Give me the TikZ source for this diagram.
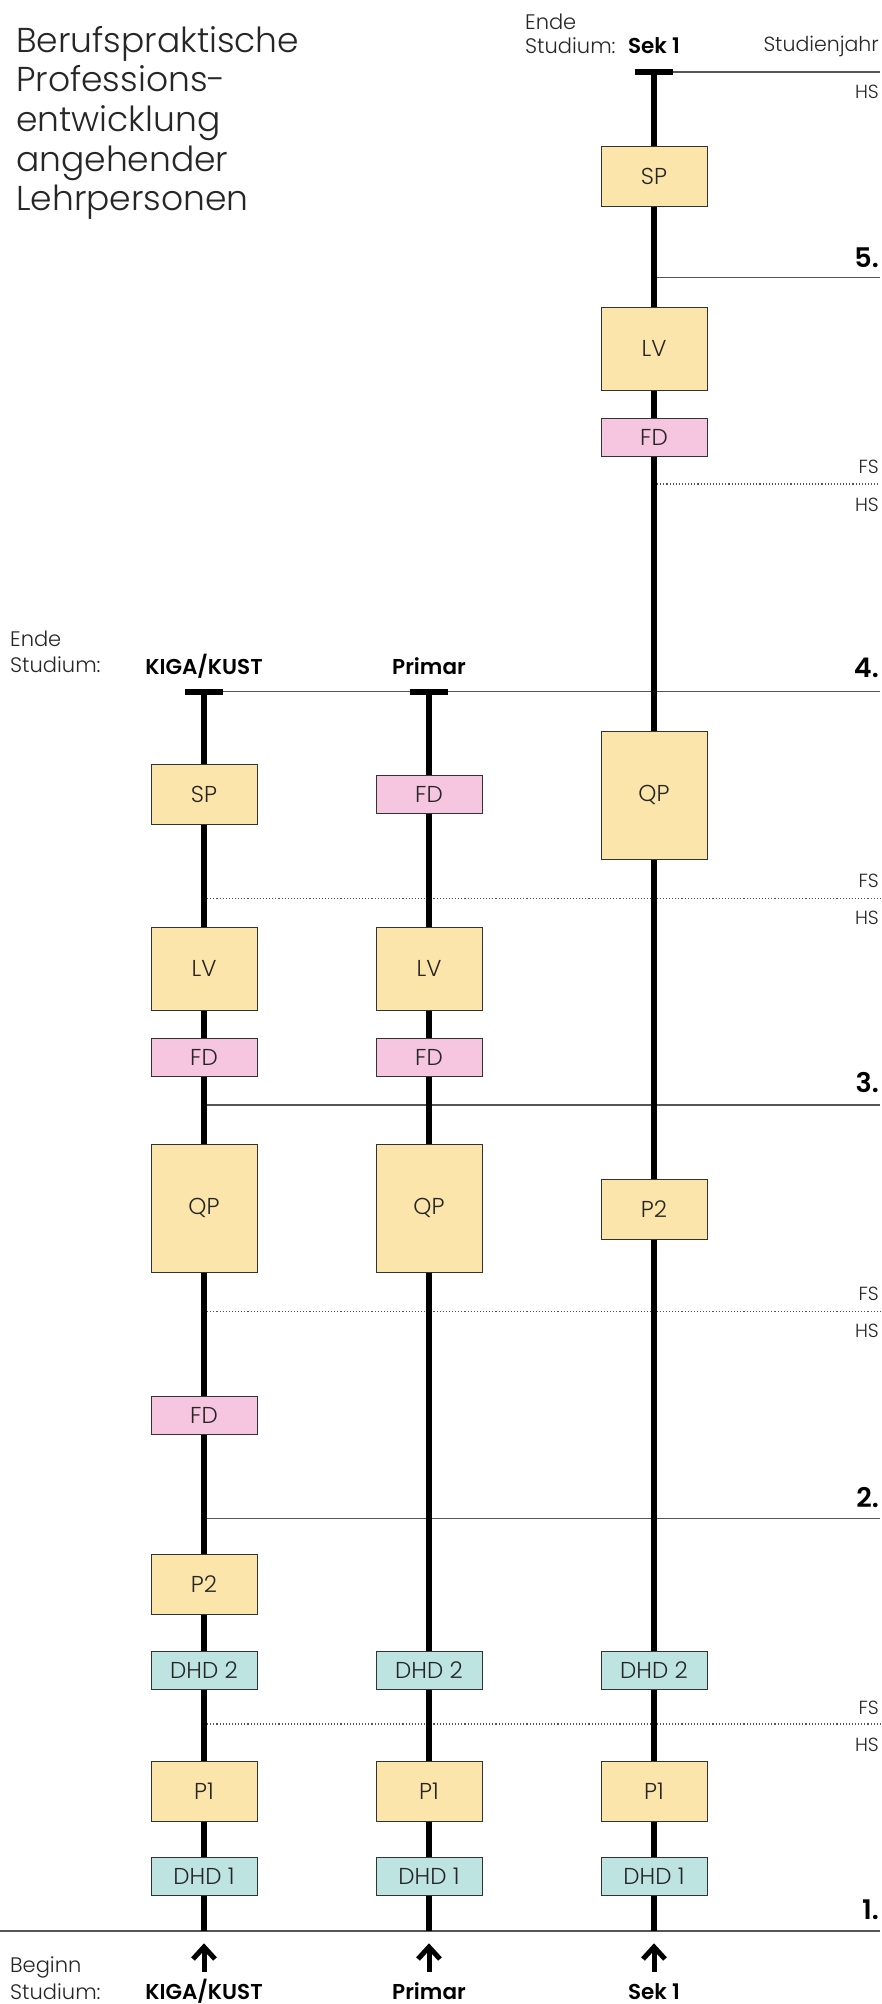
\documentclass[tikz,border=0pt]{standalone}
\usepackage{fontspec}
\setmainfont{Poppins}[UprightFont=* Light, BoldFont=* SemiBold]
\usetikzlibrary{arrows.meta}
\definecolor{yel}{HTML}{FCE5AA}
\definecolor{pnk}{HTML}{F6C5DF}
\definecolor{tea}{HTML}{BDE4E1}
\definecolor{rule}{HTML}{555555}
\tikzset{
  boxbase/.style={draw=black!80, line width=0.9pt, minimum width=106pt, inner sep=0pt,
    font=\fontsize{23}{26}\selectfont, text=black!85},
  ybox/.style={boxbase, fill=yel},
  pbox/.style={boxbase, fill=pnk},
  tbox/.style={boxbase, fill=tea},
  hsmall/.style={minimum height=38pt},
  hmid/.style={minimum height=60pt},
  hlv/.style={minimum height=83pt},
  hqp/.style={minimum height=128pt},
  colline/.style={line width=6pt, black},
  tbar/.style={line width=6pt, black},
  yearline/.style={line width=1.2pt, rule},
  semline/.style={line width=1.1pt, rule, dotted},
  rlabel/.style={anchor=east, inner sep=0pt, font=\fontsize{19}{22}\selectfont, text=black!85},
  yearlabel/.style={anchor=east, inner sep=0pt, font=\fontsize{27}{30}\selectfont\bfseries},
  smalltext/.style={inner sep=0pt, font=\fontsize{21}{25}\selectfont, text=black!85},
  boldtext/.style={inner sep=0pt, font=\fontsize{21.5}{25}\selectfont\bfseries},
  uparrow/.style={line width=5pt, black},
}
\begin{document}
\begin{tikzpicture}[x=1pt,y=-1pt]
\useasboundingbox (0,0) rectangle (882,2004);
\fill[white] (0,0) rectangle (882,2004);

% title
\node[anchor=north west, inner sep=0pt, align=left, font=\fontsize{34.5}{39.6}\selectfont, text=black!85] (title) at (16,26)
 {Berufspraktische\\Professions-\\entwicklung\\angehender\\Lehrpersonen};

% coordinates
\def\xK{204}\def\xP{429}\def\xS{654}
\coordinate (Stop) at (\xS,72);
\coordinate (Ktop) at (\xK,691.5);
\coordinate (Ptop) at (\xP,691.5);
\coordinate (Sbot) at (\xS,1931);
\coordinate (Kbot) at (\xK,1931);
\coordinate (Pbot) at (\xP,1931);
\coordinate (R) at (880,0);

% year / semester lines
\draw[yearline] (Stop) -- (Stop -| R);
\draw[yearline] (\xS,277.5) -- (880,277.5);
\draw[semline] (\xS,484) -- (880,484);
\draw[yearline] (Ktop) -- (Ktop -| R);
\draw[semline] (\xK,898.5) -- (880,898.5);
\draw[yearline] (\xK,1105) -- (880,1105);
\draw[semline] (\xK,1311.5) -- (880,1311.5);
\draw[yearline] (\xK,1518.5) -- (880,1518.5);
\draw[semline] (\xK,1724) -- (880,1724);
\draw[yearline] (0,1931) -- (880,1931);

% columns
\draw[colline] (Stop) -- (Sbot);
\draw[colline] (Ktop) -- (Kbot);
\draw[colline] (Ptop) -- (Pbot);
\draw[tbar] ([xshift=-19pt]Stop) -- ([xshift=19pt]Stop);
\draw[tbar] ([xshift=-19pt]Ktop) -- ([xshift=19pt]Ktop);
\draw[tbar] ([xshift=-19pt]Ptop) -- ([xshift=19pt]Ptop);

% Sek 1 boxes
\node[ybox,hmid]   (s-sp)   at (\xS,176.5) {SP};
\node[ybox,hlv]    (s-lv)   at (\xS,348.5) {LV};
\node[pbox,hsmall] (s-fd)   at (\xS,437) {FD};
\node[ybox,hqp]    (s-qp)   at (\xS,795) {QP};
\node[ybox,hmid]   (s-p2)   at (\xS,1209) {P2};
\node[tbox,hsmall] (s-dhd2) at (\xS,1670.5) {DHD 2};
\node[ybox,hmid]   (s-p1)   at (\xS,1791.5) {P1};
\node[tbox,hsmall] (s-dhd1) at (\xS,1876.5) {DHD 1};

% KIGA boxes
\node[ybox,hmid]   (k-sp)   at (\xK,794) {SP};
\node[ybox,hlv]    (k-lv)   at (\xK,968.5) {LV};
\node[pbox,hsmall] (k-fd)   at (\xK,1057.5) {FD};
\node[ybox,hqp]    (k-qp)   at (\xK,1208) {QP};
\node[pbox,hsmall] (k-fd2)  at (\xK,1415) {FD};
\node[ybox,hmid]   (k-p2)   at (\xK,1584) {P2};
\node[tbox,hsmall] (k-dhd2) at (\xK,1670.5) {DHD 2};
\node[ybox,hmid]   (k-p1)   at (\xK,1791.5) {P1};
\node[tbox,hsmall] (k-dhd1) at (\xK,1876.5) {DHD 1};

% Primar boxes
\node[pbox,hsmall] (p-fd)   at (\xP,794.5) {FD};
\node[ybox,hlv]    (p-lv)   at (\xP,968.5) {LV};
\node[pbox,hsmall] (p-fd2)  at (\xP,1057.5) {FD};
\node[ybox,hqp]    (p-qp)   at (\xP,1208) {QP};
\node[tbox,hsmall] (p-dhd2) at (\xP,1670.5) {DHD 2};
\node[ybox,hmid]   (p-p1)   at (\xP,1791.5) {P1};
\node[tbox,hsmall] (p-dhd1) at (\xP,1876.5) {DHD 1};

% right labels
\node[rlabel, font=\fontsize{20.5}{24}\selectfont] (studj) at (879,46) {Studienjahr};
\node[rlabel] (hs0) at (879,92) {HS};
\node[yearlabel] (y5) at (879,258) {5.};
\node[rlabel] (fs1) at (879,467) {FS};
\node[rlabel] (hs1) at (879,505) {HS};
\node[yearlabel] (y4) at (879,668) {4.};
\node[rlabel] (fs2) at (879,881) {FS};
\node[rlabel] (hs2) at (879,918) {HS};
\node[yearlabel] (y3) at (879,1083) {3.};
\node[rlabel] (fs3) at (879,1294) {FS};
\node[rlabel] (hs3) at (879,1331) {HS};
\node[yearlabel] (y2) at (879,1498) {2.};
\node[rlabel] (fs4) at (879,1708) {FS};
\node[rlabel] (hs4) at (879,1745) {HS};
\node[yearlabel] (y1) at (879,1910) {1.};

% end labels top (Sek 1)
\node[smalltext, anchor=west] (s-ende) at (525,22) {Ende};
\node[smalltext, anchor=west] (s-stud) at (525,46) {Studium:};
\node[boldtext] (s-end) at (\xS,46) {Sek 1};

% end labels left
\node[smalltext, anchor=west] (k-ende) at (10,639) {Ende};
\node[smalltext, anchor=west] (k-stud) at (10,665) {Studium:};
\node[boldtext] (k-end) at (\xK,666) {KIGA/KUST};
\node[boldtext] (p-end) at (\xP,666) {Primar};

% begin labels bottom
\node[smalltext, anchor=west] (b-beg) at (10,1967) {Beginn};
\node[smalltext, anchor=base west] (b-stud) at (10,1999) {Studium:};
\node[boldtext, anchor=base] (k-beg) at (\xK,1999) {KIGA/KUST};
\node[boldtext, anchor=base] (p-beg) at (\xP,1999) {Primar};
\node[boldtext, anchor=base] (s-beg) at (\xS,1999) {Sek 1};

% arrows
\foreach \c in {\xK,\xP,\xS}{
  \coordinate (a0) at (\c,1972);
  \coordinate (a1) at (\c,1948);
  \draw[uparrow] (a0) -- (a1);
  \draw[uparrow, line join=miter] ([xshift=-11pt,yshift=-11pt]a1) -- ([yshift=1pt]a1) -- ([xshift=11pt,yshift=-11pt]a1);
}
\end{tikzpicture}
\end{document}
